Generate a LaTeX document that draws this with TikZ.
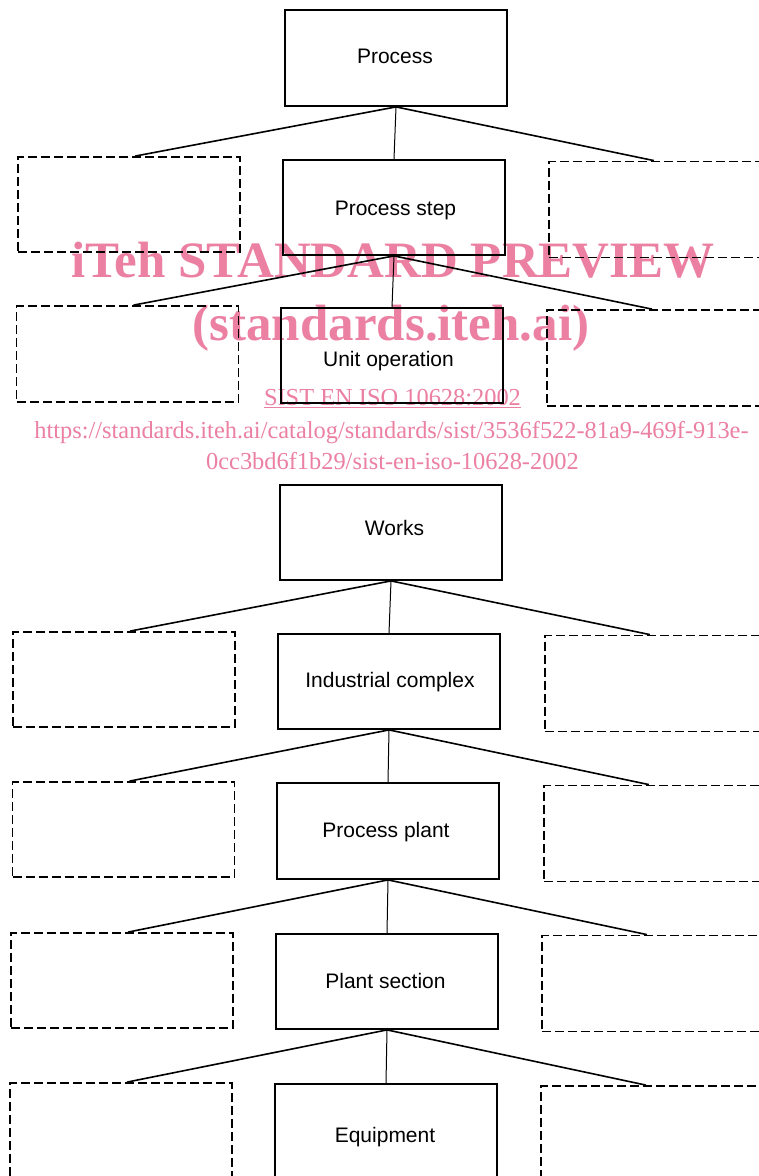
\documentclass[tikz,border=0pt]{standalone}
\usepackage{fontspec}
\setmainfont{Liberation Sans}
\newfontfamily\wmfont{Liberation Serif}
\usetikzlibrary{calc}
\definecolor{wmpink}{RGB}{235,128,162}
\tikzset{
  solidbox/.style={draw=black, line width=1.8pt, rectangle, minimum width=222pt, minimum height=96pt, inner sep=0pt},
  dashbox/.style={draw=black, line width=1.8pt, rectangle, minimum width=222pt, minimum height=96pt, inner sep=0pt, dash pattern=on 9pt off 4pt},
  boxlabel/.style={anchor=base, inner sep=0pt, font=\fontsize{21}{25}\selectfont},
  branch/.style={draw=black, line width=1.6pt},
  stem/.style={draw=black, line width=1pt},
  wmbig/.style={text=wmpink, font=\wmfont\bfseries\fontsize{51}{55}\selectfont, anchor=base, inner sep=0pt},
  wmsmall/.style={text=wmpink, font=\wmfont\fontsize{24.4}{28}\selectfont, anchor=base, inner sep=0pt}
}
\begin{document}
\begin{tikzpicture}[x=1pt,y=-1pt]
\useasboundingbox (0,0) rectangle (759,1176);
\fill[white] (0,0) rectangle (759,1176);
\clip (0,0) rectangle (759,1176);

% watermark (below the drawing)
\node[wmbig] (wm1) at (393,277) {iTeh STANDARD PREVIEW};
\node[wmbig] (wm2) at (391,340) {(standards.iteh.ai)};
\node[wmsmall] (wm3) at (392.5,405) {\underline{SIST EN ISO 10628:2002}};
\node[wmsmall] (wm4) at (391.5,438) {https://standards.iteh.ai/catalog/standards/sist/3536f522-81a9-469f-913e-};
\node[wmsmall] (wm5) at (392.5,469) {0cc3bd6f1b29/sist-en-iso-10628-2002};

% main boxes
\node[solidbox] (b1) at (396,58) {};
\node[solidbox, minimum height=95pt] (b2) at (394,207.5) {};
\node[solidbox, minimum height=95pt] (b3) at (392,355.5) {};
\node[solidbox, minimum height=95pt] (b4) at (391,532.5) {};
\node[solidbox, minimum height=95pt] (b5) at (389,681.5) {};
\node[solidbox] (b6) at (388,831) {};
\node[solidbox, minimum height=95pt] (b7) at (387,981.5) {};
\node[solidbox] (b8) at (386,1132) {};

% labels of the main boxes
\node[boxlabel] (t1) at (395,63) {Process};
\node[boxlabel] (t2) at (395.5,215) {Process step};
\node[boxlabel] (t3) at (388.5,366) {Unit operation};
\node[boxlabel] (t4) at (394.5,535) {Works};
\node[boxlabel] (t5) at (390,687) {Industrial complex};
\node[boxlabel] (t6) at (386,837) {Process plant};
\node[boxlabel] (t7) at (385.5,988) {Plant section};
\node[boxlabel] (t8) at (385,1142) {Equipment};

% dashed side boxes, left
\node[dashbox, minimum height=95pt] (l2) at (129,204.5) {};
\node[dashbox] (l3) at (127.5,354) {};
\node[dashbox, minimum height=95pt] (l5) at (124,679.5) {};
\node[dashbox, minimum height=95pt] (l6) at (123.5,829.5) {};
\node[dashbox, minimum height=95pt] (l7) at (122,980.5) {};
\node[dashbox] (l8) at (121,1131) {};

% dashed side boxes, right (cut by the page edge)
\node[dashbox] (r2) at (660,209.5) {};
\node[dashbox] (r3) at (658,358) {};
\node[dashbox] (r5) at (656,683.5) {};
\node[dashbox] (r6) at (655,833.5) {};
\node[dashbox] (r7) at (653,983.5) {};
\node[dashbox] (r8) at (652,1134) {};

% connectors
\foreach \p/\c in {b1/2, b2/3, b4/5, b5/6, b6/7, b7/8}{
  \draw[stem] (\p.south) -- (b\c.north);
  \draw[branch] (\p.south) -- ($(l\c.north west)!0.527!(l\c.north east)$);
  \draw[branch] (\p.south) -- ($(r\c.north west)!0.473!(r\c.north east)$);
}
\end{tikzpicture}
\end{document}
